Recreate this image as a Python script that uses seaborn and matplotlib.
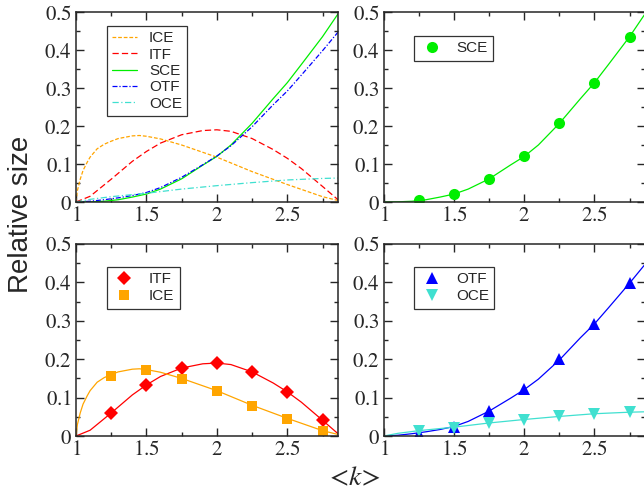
import numpy as np
import matplotlib
matplotlib.use("Agg")
import matplotlib.pyplot as plt
from matplotlib.ticker import MultipleLocator, FormatStrFormatter
from matplotlib.lines import Line2D
import seaborn as sns

# curve samples
k_ice = [1.0, 1.01, 1.03, 1.05, 1.08, 1.1, 1.15, 1.2, 1.25, 1.3, 1.4, 1.45, 1.5, 1.6, 1.75, 2.0, 2.25, 2.5, 2.75, 2.86]
ice = [0.0, 0.03, 0.06, 0.083, 0.105, 0.118, 0.140, 0.152, 0.160, 0.167, 0.174, 0.175, 0.173, 0.166, 0.150, 0.118, 0.080, 0.046, 0.014, 0.004]

k_itf = [1.0, 1.1, 1.25, 1.4, 1.5, 1.6, 1.75, 1.9, 2.0, 2.1, 2.25, 2.4, 2.5, 2.6, 2.75, 2.86]
itf = [0.0, 0.015, 0.060, 0.107, 0.133, 0.155, 0.177, 0.188, 0.190, 0.186, 0.167, 0.138, 0.115, 0.088, 0.041, 0.006]

k_sce = [1.0, 1.1, 1.2, 1.3, 1.4, 1.5, 1.6, 1.75, 1.9, 2.0, 2.1, 2.25, 2.4, 2.5, 2.6, 2.75, 2.86]
sce = [0.0, 0.0005, 0.002, 0.006, 0.013, 0.021, 0.034, 0.061, 0.097, 0.120, 0.150, 0.207, 0.272, 0.314, 0.362, 0.435, 0.495]

k_otf = [1.0, 1.1, 1.2, 1.3, 1.4, 1.5, 1.6, 1.75, 1.9, 2.0, 2.1, 2.25, 2.4, 2.5, 2.6, 2.75, 2.86]
otf = [0.0, 0.002, 0.006, 0.011, 0.017, 0.025, 0.038, 0.065, 0.098, 0.121, 0.148, 0.198, 0.256, 0.292, 0.334, 0.398, 0.447]

k_oce = [1.0, 1.1, 1.25, 1.5, 1.75, 2.0, 2.25, 2.5, 2.75, 2.86]
oce = [0.0, 0.007, 0.014, 0.023, 0.034, 0.043, 0.051, 0.058, 0.062, 0.063]

# simulation points
k_pts = [1.25, 1.5, 1.75, 2.0, 2.25, 2.5, 2.75]
sce_pts = [0.004, 0.021, 0.061, 0.120, 0.207, 0.314, 0.435]
itf_pts = [0.060, 0.133, 0.177, 0.190, 0.167, 0.115, 0.041]
ice_pts = [0.155, 0.172, 0.148, 0.116, 0.079, 0.045, 0.014]
otf_pts = [0.004, 0.024, 0.066, 0.122, 0.201, 0.292, 0.398]
oce_pts = [0.013, 0.022, 0.033, 0.042, 0.051, 0.058, 0.062]

c_ice, c_itf, c_sce, c_otf, c_oce = "#ffa500", "#ff0000", "#00ee00", "#0000ff", "#40e0d0"

sns.set_style("ticks")
plt.rcParams["font.family"] = ["Liberation Sans", "DejaVu Sans"]
plt.rcParams["mathtext.fontset"] = "stix"

fig = plt.figure(figsize=(6.44, 4.93), dpi=100)
W, H = 644.0, 493.0


def mkax(l, t, r, b):
    return fig.add_axes([l / W, 1 - b / H, (r - l) / W, (b - t) / H])


ax1 = mkax(76, 12, 338, 202)
ax2 = mkax(384, 12, 645, 202)
ax3 = mkax(76, 244, 338, 436)
ax4 = mkax(384, 244, 645, 436)

lw = 0.9
sns.lineplot(x=k_ice, y=ice, ax=ax1, color=c_ice, lw=lw, linestyle=(0, (3, 1.5)), label="ICE")
sns.lineplot(x=k_itf, y=itf, ax=ax1, color=c_itf, lw=lw, linestyle=(0, (5, 2.5)), label="ITF")
sns.lineplot(x=k_sce, y=sce, ax=ax1, color=c_sce, lw=lw, label="SCE")
sns.lineplot(x=k_otf, y=otf, ax=ax1, color=c_otf, lw=lw, linestyle=(0, (4, 1.5, 1, 1.5)), label="OTF")
sns.lineplot(x=k_oce, y=oce, ax=ax1, color=c_oce, lw=lw, linestyle=(0, (5, 2, 1, 2)), label="OCE")

sns.lineplot(x=k_sce, y=sce, ax=ax2, color=c_sce, lw=lw)
ax2.plot(k_pts, sce_pts, "o", color=c_sce, ms=8, mew=0)

sns.lineplot(x=k_itf, y=itf, ax=ax3, color=c_itf, lw=lw)
sns.lineplot(x=k_ice, y=ice, ax=ax3, color=c_ice, lw=lw)
ax3.plot(k_pts, itf_pts, "D", color=c_itf, ms=7, mew=0)
ax3.plot(k_pts, ice_pts, "s", color=c_ice, ms=7, mew=0)

sns.lineplot(x=k_otf, y=otf, ax=ax4, color=c_otf, lw=lw)
sns.lineplot(x=k_oce, y=oce, ax=ax4, color=c_oce, lw=lw)
ax4.plot(k_pts, otf_pts, "^", color=c_otf, ms=8, mew=0)
ax4.plot(k_pts, oce_pts, "v", color=c_oce, ms=8, mew=0)

for ax in (ax1, ax2, ax3, ax4):
    ax.set_xlim(1, 2.86)
    ax.set_ylim(0, 0.5)
    ax.xaxis.set_major_locator(MultipleLocator(0.5))
    ax.xaxis.set_minor_locator(MultipleLocator(0.25))
    ax.yaxis.set_major_locator(MultipleLocator(0.1))
    ax.yaxis.set_minor_locator(MultipleLocator(0.05))
    # serif numbers via stix mathtext
    ax.xaxis.set_major_formatter(FormatStrFormatter("$%g$"))
    ax.yaxis.set_major_formatter(FormatStrFormatter("$%g$"))
    ax.tick_params(which="both", direction="in", top=True, right=True, width=1.0, labelsize=15)
    ax.tick_params(which="major", length=6, pad=3)
    ax.tick_params(which="minor", length=3)
    for s in ax.spines.values():
        s.set_linewidth(1.1)
    ax.set_xlabel("")
    ax.set_ylabel("")

leg_kw = dict(loc="upper left", frameon=True, fancybox=False, shadow=False,
              borderaxespad=0, borderpad=0.35, handletextpad=0.8,
              prop={"family": "Liberation Sans", "size": 11})

leg = ax1.legend(bbox_to_anchor=(0.118, 0.926), handlelength=1.6, labelspacing=0.15, **leg_kw)
leg.get_frame().set_edgecolor("black")
leg.get_frame().set_linewidth(0.9)

h2 = [Line2D([], [], ls="", marker="o", color=c_sce, ms=8, mew=0)]
leg = ax2.legend(h2, ["SCE"], bbox_to_anchor=(0.115, 0.874), handlelength=1.6, **leg_kw)
leg.get_frame().set_edgecolor("black")
leg.get_frame().set_linewidth(0.9)

h3 = [Line2D([], [], ls="", marker="D", color=c_itf, ms=7, mew=0),
      Line2D([], [], ls="", marker="s", color=c_ice, ms=7, mew=0)]
leg = ax3.legend(h3, ["ITF", "ICE"], bbox_to_anchor=(0.118, 0.88), handlelength=1.6,
                 labelspacing=0.2, **leg_kw)
leg.get_frame().set_edgecolor("black")
leg.get_frame().set_linewidth(0.9)

h4 = [Line2D([], [], ls="", marker="^", color=c_otf, ms=8, mew=0),
      Line2D([], [], ls="", marker="v", color=c_oce, ms=8, mew=0)]
leg = ax4.legend(h4, ["OTF", "OCE"], bbox_to_anchor=(0.115, 0.88), handlelength=1.6,
                 labelspacing=0.2, **leg_kw)
leg.get_frame().set_edgecolor("black")
leg.get_frame().set_linewidth(0.9)

fig.text(21.5 / W, 1 - 214 / H, "Relative size", rotation=90, ha="center", va="center",
         fontsize=20, family="Liberation Sans")
fig.text(353 / W, 1 - 478 / H, r"$<\!k\!>$", ha="center", va="center", fontsize=20)

fig.savefig("out.png", dpi=100)
